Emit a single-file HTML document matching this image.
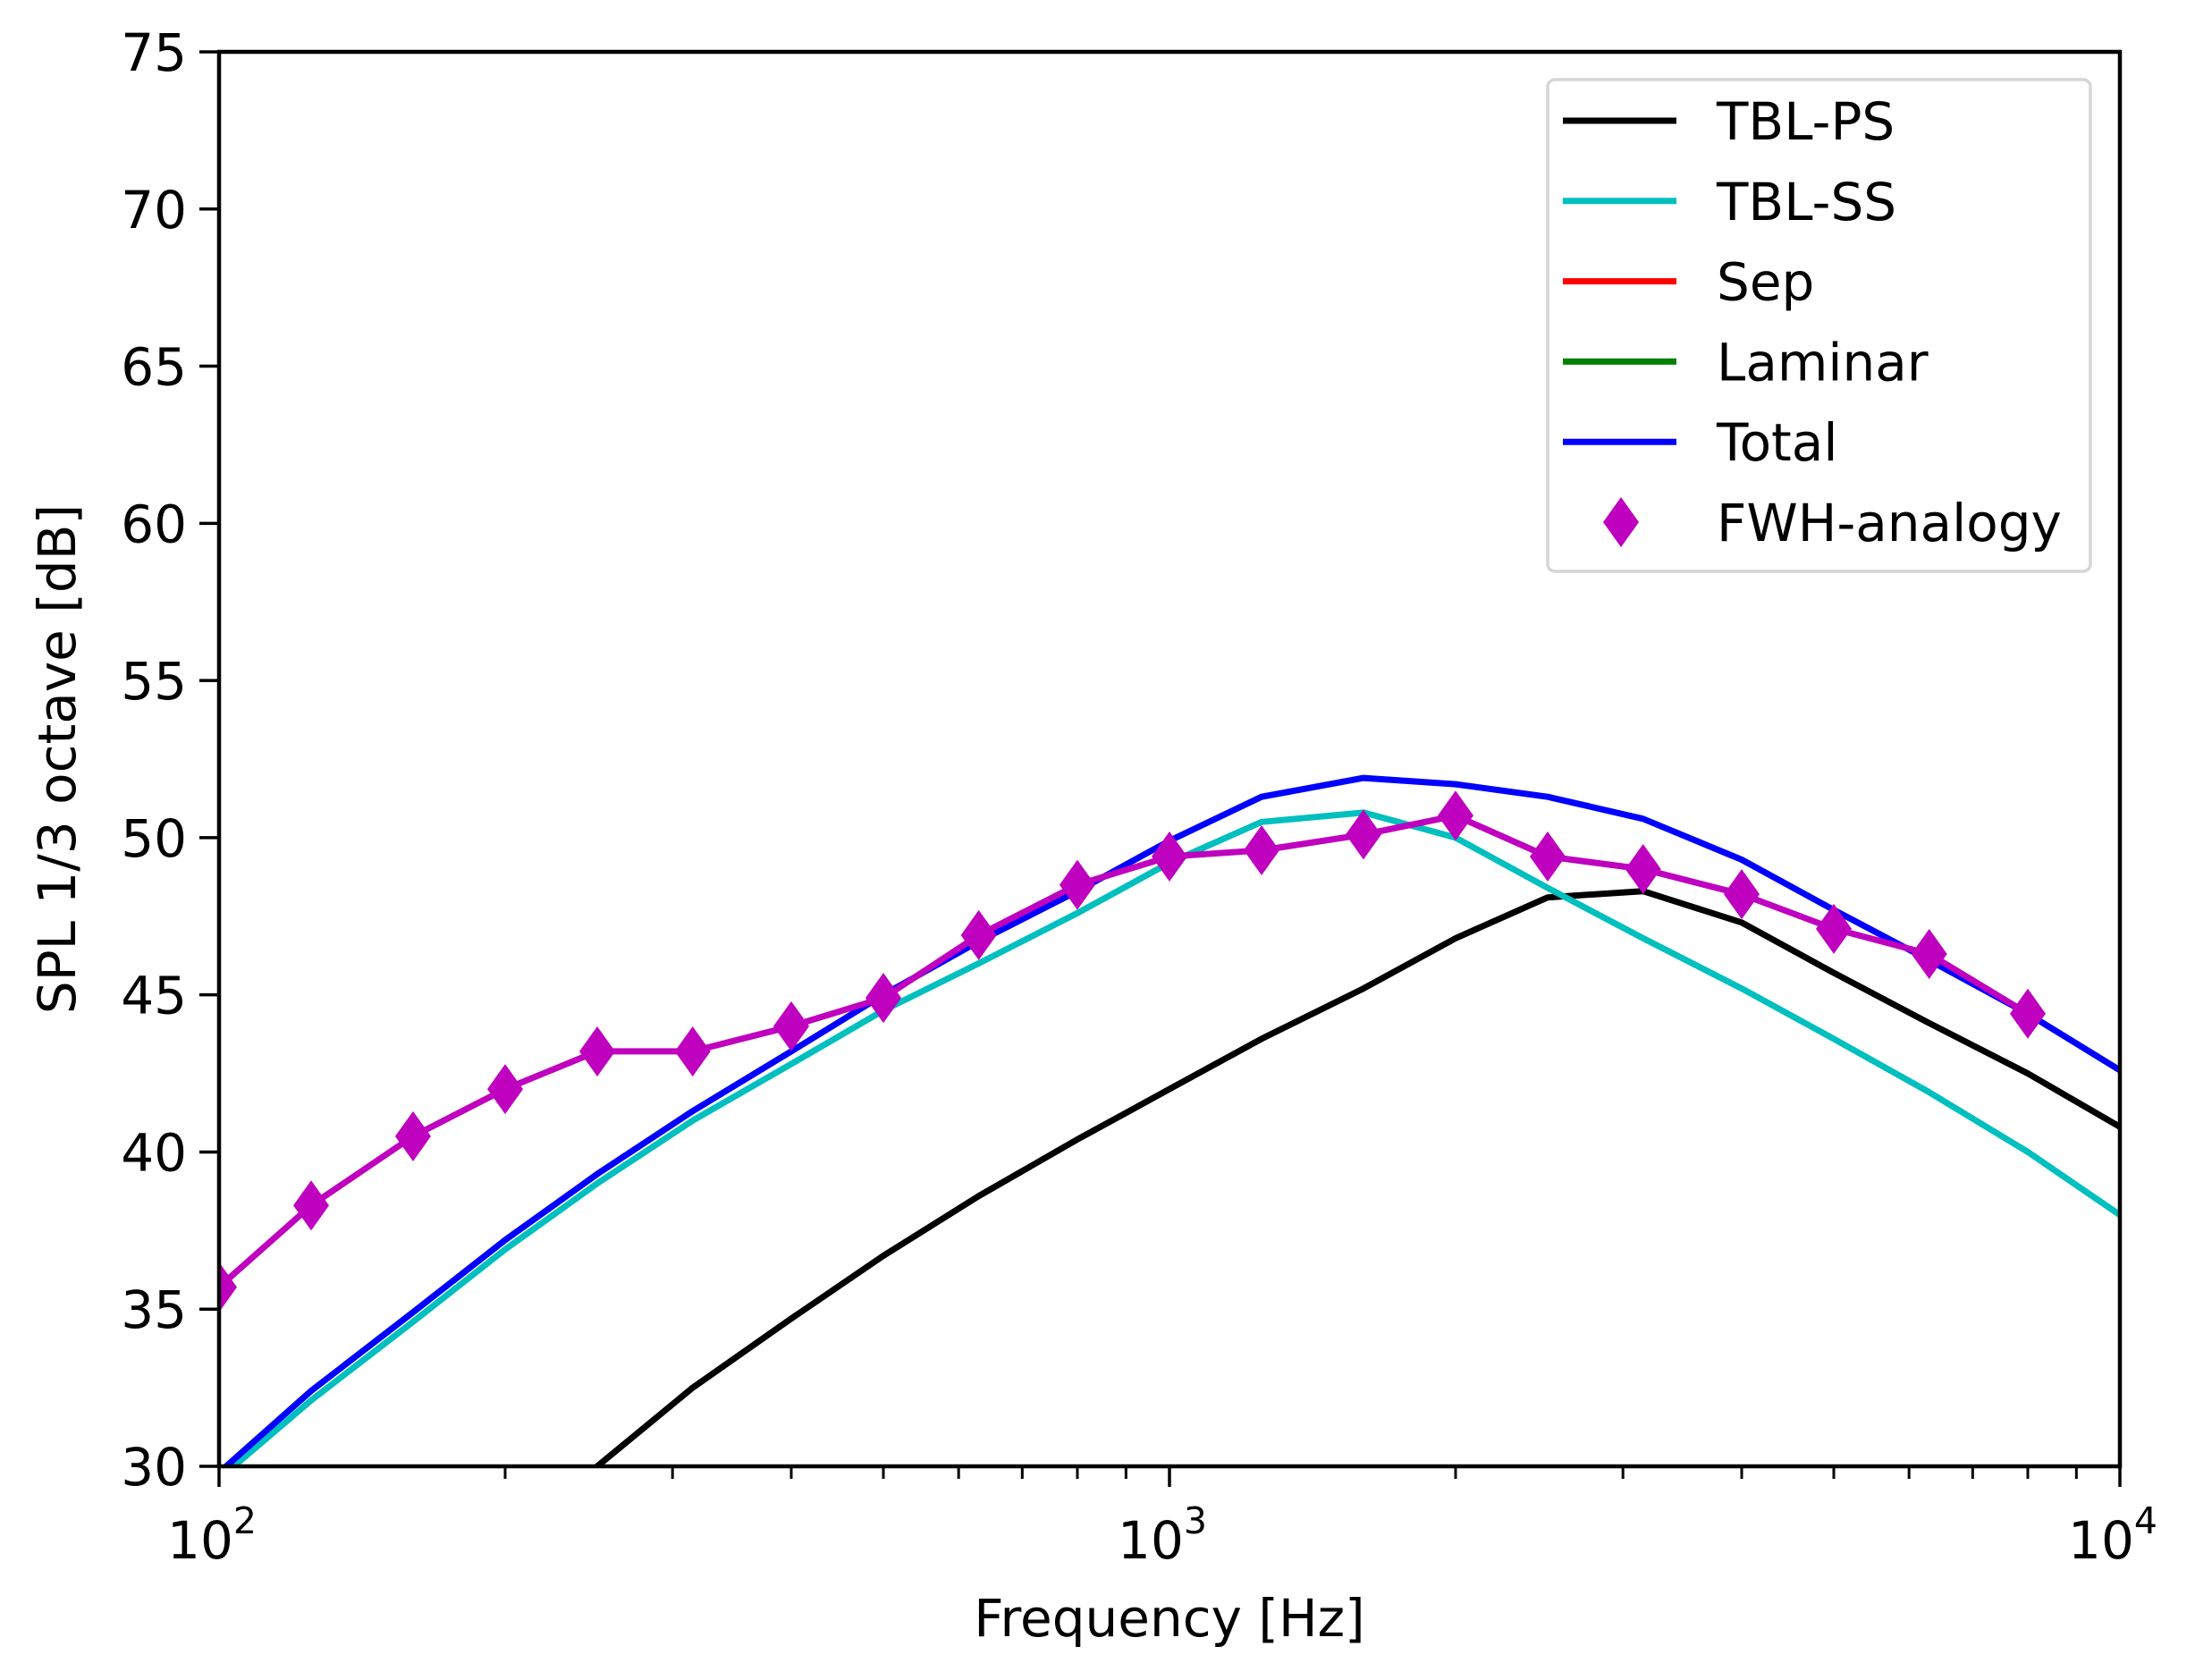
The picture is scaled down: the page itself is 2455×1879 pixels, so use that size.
<!DOCTYPE html>
<html><head><meta charset="utf-8"><style>
html,body{margin:0;padding:0;background:#fff;}
svg text{font-family:"DejaVu Sans","Liberation Sans",sans-serif;fill:#000;}
</style></head><body>
<svg id="chart" width="2455" height="1874" viewBox="0 0 2455 1874" xmlns="http://www.w3.org/2000/svg">
<defs><clipPath id="plotclip"><rect x="245" y="58" width="2126" height="1582"/></clipPath></defs>
<rect x="0" y="0" width="2455" height="1874" fill="#fff"/>
<g id="axes"></g>
<g id="series" clip-path="url(#plotclip)"></g>
<g id="frame"></g>
<g id="legend"></g>
<text x="1308" y="1830" font-size="58" text-anchor="middle">Frequency [Hz]</text>
<text x="0" y="0" font-size="58" text-anchor="middle" transform="translate(84,849) rotate(-90)">SPL 1/3 octave [dB]</text>
</svg>
<script>
const freqs = [100,125,160,200,250,315,400,500,630,800,1000,1250,1600,2000,2500,3150,4000,5000,6300,8000,10000];
const tblPS = [22.0,24.0,25.9,27.9,30.0,32.5,34.7,36.7,38.6,40.4,42.0,43.6,45.2,46.8,48.1,48.3,47.3,45.7,44.1,42.5,40.8];
const tblSS = [29.6,32.1,34.6,36.9,39.0,41.0,42.8,44.5,46.0,47.6,49.2,50.5,50.8,50.0,48.4,46.8,45.2,43.6,41.9,40.0,38.0];
const total = [29.8,32.4,34.9,37.2,39.3,41.3,43.2,45.0,46.7,48.3,49.9,51.3,51.9,51.7,51.3,50.6,49.3,47.7,46.1,44.4,42.6];
const fwhFreqs = [100,125,160,200,250,315,400,500,630,800,1000,1250,1600,2000,2500,3150,4000,5000,6300,8000];
const fwh = [35.7,38.3,40.5,42.0,43.2,43.2,44.0,44.9,46.9,48.5,49.4,49.6,50.1,50.7,49.4,49.0,48.2,47.1,46.3,44.4];
const yTicks = [30,35,40,45,50,55,60,65,70,75];
const xMajor = [2,3,4];
const legendLabels = ['TBL-PS','TBL-SS','Sep','Laminar','Total','FWH-analogy'];
const legendColors = ['#000000','#00bfbf','#ff0000','#008000','#0000ff','#bf00bf'];

const NS='http://www.w3.org/2000/svg';
const L=245,R=2371,T=58,B=1640;
function xs(f){return L+(Math.log10(f)-2)/2*(R-L);}
function ys(v){return B-(v-30)/45*(B-T);}
function mk(tag,attrs,parent){const e=document.createElementNS(NS,tag);for(const k in attrs)e.setAttribute(k,attrs[k]);parent.appendChild(e);return e;}
const axes=document.getElementById('axes'),series=document.getElementById('series'),frame=document.getElementById('frame'),legend=document.getElementById('legend');

yTicks.forEach(v=>{
  const t=mk('line',{x1:L-22,x2:L,y1:ys(v),y2:ys(v),stroke:'#000','stroke-width':3.5},axes);
  
  
  const tx=mk('text',{x:L-36,y:ys(v)+21,'font-size':58,'text-anchor':'end'},axes);
  tx.textContent=v;
  
  
});
xMajor.forEach(p=>{
  const x=xs(Math.pow(10,p));
  const t=mk('line',{x1:x,x2:x,y1:B,y2:B+23,stroke:'#000','stroke-width':3.5},axes);
  
  
  const tx=mk('text',{x:x-8,y:1743,'font-size':58,'text-anchor':'middle'},axes);
  tx.textContent='10';
  
  
  const sp=mk('tspan',{dy:-28,'font-size':41},tx);
  sp.textContent=String(p);
});
[2,3].forEach(p=>{for(let m=2;m<=9;m++){
  const x=xs(m*Math.pow(10,p));
  const t=mk('line',{x1:x,x2:x,y1:B,y2:B+14,stroke:'#000','stroke-width':3},axes);
  
  
}});

function line(xsArr,vals,color,name){
  const pts=xsArr.map((f,i)=>xs(f).toFixed(1)+','+ys(vals[i]).toFixed(1)).join(' ');
  const p=mk('polyline',{points:pts,fill:'none',stroke:color,'stroke-width':7,'stroke-linejoin':'round'},series);
  
  
}
line(freqs,tblPS,'#000000','tbl-ps-line');
line(freqs,tblSS,'#00bfbf','tbl-ss-line');
line(freqs,total,'#0000ff','total-line');
line(fwhFreqs,fwh,'#bf00bf','fwh-line');
function diamond(cx,cy){return (cx)+','+(cy-28)+' '+(cx+20)+','+cy+' '+cx+','+(cy+28)+' '+(cx-20)+','+cy;}
fwhFreqs.forEach((f,i)=>{
  const d=mk('polygon',{points:diamond(xs(f),ys(fwh[i])),fill:'#bf00bf'},series);
  
  
});

const fr=mk('rect',{x:L,y:T,width:R-L,height:B-T,fill:'none',stroke:'#000','stroke-width':4.5},frame);



const lb=mk('rect',{x:1731,y:89,width:607,height:550,rx:8,fill:'#fff','fill-opacity':0.85,stroke:'#d6d6d6','stroke-width':3.5},legend);


legendLabels.forEach((lab,i)=>{
  const y=135+i*89.8;
  if(i<5){
    const l=mk('line',{x1:1748,x2:1875,y1:y,y2:y,stroke:legendColors[i],'stroke-width':7},legend);
    
    
  } else {
    const d=mk('polygon',{points:diamond(1813,y),fill:legendColors[i]},legend);
    
    
  }
  const t=mk('text',{x:1920,y:y+21,'font-size':58},legend);
  t.textContent=lab;
  
  
});
</script>
</body></html>
